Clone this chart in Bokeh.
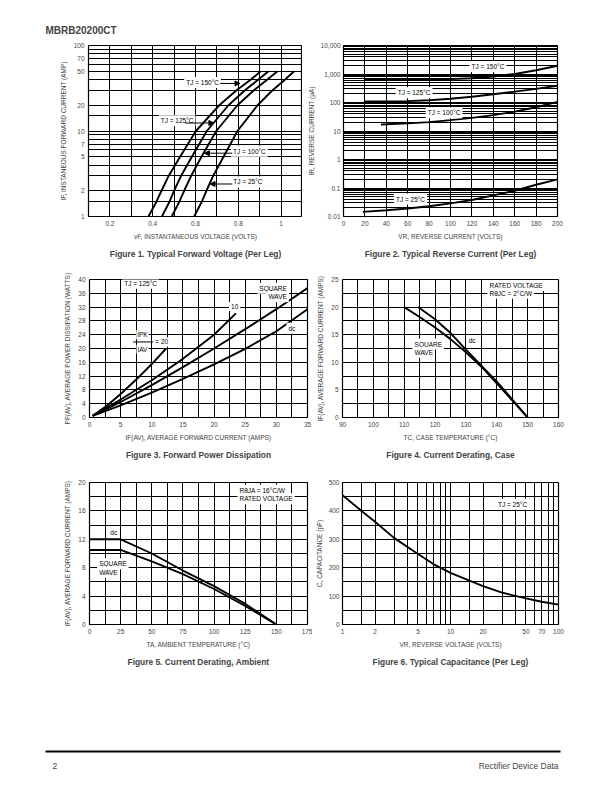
from bokeh.plotting import figure
from bokeh.models import (Range1d, FixedTicker, NumeralTickFormatter, Label, Arrow,
                          NormalHead, BoxAnnotation, Spacer)
from bokeh.layouts import column, row
from bokeh.embed import file_html
from bokeh.resources import INLINE

FONT = "Liberation Sans"

# ---------------- Figure 1 data: forward voltage ----------------
f1_current = [1, 1.5, 2, 3, 5, 10, 20, 30, 40, 50]
f1_v_25 = [0.594, 0.630, 0.651, 0.683, 0.731, 0.796, 0.890, 0.960, 1.019, 1.061]
f1_v_100 = [0.489, 0.525, 0.547, 0.580, 0.628, 0.697, 0.796, 0.873, 0.936, 0.983]
f1_v_125 = [0.443, 0.479, 0.500, 0.533, 0.583, 0.653, 0.754, 0.831, 0.894, 0.941]
f1_v_150 = [0.380, 0.418, 0.441, 0.475, 0.528, 0.602, 0.711, 0.792, 0.859, 0.905]
f1_xticks = [0.2, 0.4, 0.6, 0.8, 1.0]
f1_yticks = [1, 2, 5, 7, 10, 20, 50, 70, 100]

# ---------------- Figure 2 data: reverse current ----------------
f2_vr = [20, 40, 60, 80, 100, 120, 140, 160, 180, 200]
f2_ir_150 = [640, 630, 630, 640, 660, 710, 820, 1000, 1350, 1950]
f2_ir_125 = [108, 108, 112, 120, 135, 160, 195, 240, 300, 385]
f2_vr_100 = [35, 40, 60, 80, 100, 120, 140, 160, 180, 200]
f2_ir_100 = [17, 17.2, 18.5, 20.5, 24, 29, 36, 48, 68, 105]
f2_vr_25 = [18, 40, 60, 80, 100, 120, 140, 160, 180, 200]
f2_ir_25 = [0.0145, 0.0165, 0.019, 0.023, 0.029, 0.038, 0.055, 0.08, 0.13, 0.2]
f2_xticks = [0, 20, 40, 60, 80, 100, 120, 140, 160, 180, 200]
f2_yticks = [0.01, 0.1, 1, 10, 100, 1000, 10000]

# ---------------- Figure 3 data: forward power dissipation ----------------
f3_i_20 = [0.5, 2.5, 5, 7.5, 10, 12.3]
f3_p_20 = [0.5, 3.0, 6.8, 11.0, 15.5, 20.0]
f3_i_10 = [0.5, 5, 10, 15, 20, 23.5]
f3_p_10 = [0.5, 5.2, 10.8, 17.0, 24.0, 30.2]
f3_i = [0.5, 5, 10, 15, 20, 25, 30, 35]
f3_p_sq = [0.5, 4.5, 9.4, 14.6, 20.0, 25.6, 31.4, 37.5]
f3_p_dc = [0.5, 3.5, 7.2, 11.2, 15.4, 19.9, 25.0, 31.4]
f3_xticks = [0, 5, 10, 15, 20, 25, 30, 35]
f3_yticks = [0, 4, 8, 12, 16, 20, 24, 28, 32, 36, 40]

# ---------------- Figure 4 data: current derating, case ----------------
f4_tc_sq = [110, 115, 120, 125, 130, 135, 140, 145, 150]
f4_i_sq = [20, 18.2, 16.3, 14.2, 11.8, 9.2, 6.2, 3.1, 0]
f4_tc_dc = [114.5, 120, 125, 130, 135, 140, 145, 150]
f4_i_dc = [20, 17.8, 15.3, 12.3, 9.4, 6.5, 3.3, 0]
f4_xticks = [90, 100, 110, 120, 130, 140, 150, 160]
f4_yticks = [0, 5, 10, 15, 20, 25]

# ---------------- Figure 5 data: current derating, ambient ----------------
f5_ta = [0, 25, 50, 75, 100, 125, 150]
f5_i_dc = [12, 12, 10.0, 7.6, 5.4, 2.9, 0]
f5_i_sq = [10.5, 10.5, 8.9, 7.1, 5.0, 2.6, 0]
f5_xticks = [0, 25, 50, 75, 100, 125, 150, 175]
f5_yticks = [0, 4, 8, 12, 16, 20]

# ---------------- Figure 6 data: capacitance ----------------
f6_vr = [1, 1.5, 2, 3, 5, 7, 10, 20, 30, 50, 70, 100]
f6_c = [455, 400, 362, 305, 248, 212, 182, 135, 112, 92, 80, 70]
f6_xticks = [1, 2, 5, 10, 20, 50, 70, 100]
f6_yticks = [0, 100, 200, 300, 400, 500]

# grid positions
log_grid_1_100 = [1, 1.5, 2, 3, 4, 5, 6, 7, 8, 9, 10, 15, 20, 30, 40, 50, 60, 70, 80, 90, 100]
log_grid_rev = [m * 10.0 ** e for e in range(-2, 4) for m in range(1, 10)] + [10000]


def make_fig(w, h, bl, br, bt, bb, xr, yr, xlabel, ylabel, caption,
             xticks, yticks, xgrid, ygrid, xfmt="0", yfmt="0",
             xlog=False, ylog=False, ystand=(4, 4)):
    p = figure(width=w, height=h,
               x_range=Range1d(*xr), y_range=Range1d(*yr),
               x_axis_type="log" if xlog else "linear",
               y_axis_type="log" if ylog else "linear",
               output_backend="svg", toolbar_location=None,
               min_border_left=bl, min_border_right=br,
               min_border_top=bt, min_border_bottom=bb,
               title_location="below")
    p.title.text = caption
    p.title.align = "center"
    p.title.text_font = FONT
    p.title.text_font_size = "8.4px"
    p.title.text_font_style = "bold"
    p.title.standoff = 8
    p.outline_line_color = "black"
    p.outline_line_width = 1.2
    p.background_fill_color = "white"
    p.border_fill_color = "white"
    p.xaxis.axis_label = xlabel
    p.yaxis.axis_label = ylabel
    p.xaxis.ticker = FixedTicker(ticks=xticks)
    p.yaxis.ticker = FixedTicker(ticks=yticks)
    p.xaxis.formatter = NumeralTickFormatter(format=xfmt)
    p.yaxis.formatter = NumeralTickFormatter(format=yfmt)
    for ax in p.axis:
        ax.axis_line_color = None
        ax.major_tick_line_color = None
        ax.minor_tick_line_color = None
        ax.major_tick_out = 0
        ax.major_tick_in = 0
        ax.major_label_text_font = FONT
        ax.major_label_text_font_size = "6.5px"
        ax.major_label_standoff = 4
        ax.axis_label_text_font = FONT
        ax.axis_label_text_font_size = "6.5px"
        ax.axis_label_text_font_style = "normal"
        ax.axis_label_standoff = 4
    p.yaxis.major_label_standoff = ystand[0]
    p.yaxis.axis_label_standoff = ystand[1]
    p.xgrid.ticker = FixedTicker(ticks=xgrid)
    p.ygrid.ticker = FixedTicker(ticks=ygrid)
    for g in (p.xgrid, p.ygrid):
        g.grid_line_color = "black"
        g.grid_line_width = 1
        g.grid_line_alpha = 1
    return p


def lab(p, x, y, text, align="left", size="6.5px", pad=2):
    p.add_layout(Label(x=x, y=y, text=text, text_align=align,
                       text_baseline="middle", text_font=FONT,
                       text_font_size=size, text_color="black",
                       background_fill_color="white", padding=pad))


def arrow(p, x0, y0, x1, y1):
    p.add_layout(Arrow(end=NormalHead(size=5, fill_color="black",
                                      line_color="black", line_width=1),
                       x_start=x0, y_start=y0, x_end=x1, y_end=y1,
                       line_color="black", line_width=1))


CURVE = dict(line_color="black", line_width=1.9)

# ---------------- header ----------------
header = figure(width=596, height=36, x_range=Range1d(0, 596), y_range=Range1d(0, 36),
                x_axis_type=None, y_axis_type=None, output_backend="svg",
                toolbar_location=None, min_border=0)
header.outline_line_color = None
header.grid.visible = False
header.add_layout(Label(x=45, y=6.5, text="MBRB20200CT", text_baseline="middle",
                        text_font=FONT, text_font_size="10px", text_font_style="bold"))

# ---------------- Figure 1 ----------------
p1 = make_fig(294, 226, 80, 0, 9, 45, (0.1, 1.1), (1, 100),
              "vF, INSTANTANEOUS VOLTAGE (VOLTS)",
              "IF, INSTANEOUS FORWARD CURRENT (AMP)",
              "Figure 1. Typical Forward Voltage (Per Leg)",
              f1_xticks, f1_yticks,
              [0.1 * k for k in range(1, 12)], log_grid_1_100,
              xfmt="0.[0]", yfmt="0", ylog=True)
for v in (f1_v_150, f1_v_125, f1_v_100, f1_v_25):
    p1.line(v, f1_current, **CURVE)
lab(p1, 0.633, 37, "TJ = 150°C", "center")
arrow(p1, 0.715, 36, 0.808, 36)
lab(p1, 0.514, 13.2, "TJ = 125°C", "center")
arrow(p1, 0.552, 12.4, 0.686, 12.4)
lab(p1, 0.852, 5.8, "TJ = 100°C", "center")
arrow(p1, 0.772, 5.5, 0.642, 5.5)
lab(p1, 0.845, 2.54, "TJ = 25°C", "center")
arrow(p1, 0.772, 2.4, 0.668, 2.4)

# ---------------- Figure 2 ----------------
p2 = make_fig(302, 226, 41, 47, 9, 45, (0, 200), (0.01, 10000),
              "VR, REVERSE CURRENT (VOLTS)",
              "IR, REVERSE CURRENT (µA)",
              "Figure 2. Typical Reverse Current (Per Leg)",
              f2_xticks, f2_yticks,
              list(range(0, 201, 20)), log_grid_rev,
              xfmt="0", yfmt="0,0.[00]", ylog=True, ystand=(3, 3))
p2.line(f2_vr, f2_ir_150, **CURVE)
p2.line(f2_vr, f2_ir_125, **CURVE)
p2.line(f2_vr_100, f2_ir_100, **CURVE)
p2.line(f2_vr_25, f2_ir_25, **CURVE)
lab(p2, 135, 1820, "TJ = 150°C", "center")
lab(p2, 66, 219, "TJ = 125°C", "center")
lab(p2, 94, 44, "TJ = 100°C", "center")
lab(p2, 62.6, 0.041, "TJ = 25°C", "center")

# ---------------- Figure 3 ----------------
p3 = make_fig(306, 208, 81, 7, 15, 53, (0, 35), (0, 40),
              "IF(AV), AVERAGE FORWARD CURRENT (AMPS)",
              "PF(AV), AVERAGE POWER DISSIPATION (WATTS)",
              "Figure 3. Forward Power Dissipation",
              f3_xticks, f3_yticks,
              [2.5 * k for k in range(0, 15)], list(range(0, 41, 4)))
p3.line(f3_i_20, f3_p_20, **CURVE)
p3.line(f3_i_10, f3_p_10, **CURVE)
p3.line(f3_i, f3_p_sq, **CURVE)
p3.line(f3_i, f3_p_dc, **CURVE)
lab(p3, 8.2, 38.9, "TJ = 125°C", "center")
lab(p3, 23.3, 32.2, "10", "center")
lab(p3, 32.0, 37.5, "SQUARE", "right")
lab(p3, 32.0, 35.0, "WAVE", "right")
lab(p3, 32.5, 25.9, "dc", "center")
lab(p3, 8.5, 24.0, "IPK", "center", pad=1)
lab(p3, 8.5, 19.8, "IAV", "center", pad=1)
lab(p3, 10.4, 21.9, "= 20", "left", pad=1)
p3.add_layout(Arrow(end=None, x_start=7.0, y_start=21.9, x_end=10.2, y_end=21.9,
                    line_color="black", line_width=1))

# ---------------- Figure 4 ----------------
p4 = make_fig(290, 208, 28, 46, 17, 50, (90, 160), (0, 25),
              "TC, CASE TEMPERATURE (°C)",
              "IF(AV), AVERAGE FORWARD CURRENT (AMPS)",
              "Figure 4. Current Derating, Case",
              f4_xticks, f4_yticks,
              list(range(90, 161, 5)), [2.5 * k for k in range(0, 11)])
p4.line(f4_tc_sq, f4_i_sq, **CURVE)
p4.line(f4_tc_dc, f4_i_dc, **CURVE)
lab(p4, 137.0, 23.9, "RATED VOLTAGE", "left")
lab(p4, 137.0, 22.5, "RθJC = 2°C/W", "left")
lab(p4, 112.7, 13.3, "SQUARE", "left")
lab(p4, 112.7, 11.8, "WAVE", "left")
lab(p4, 132.0, 14.0, "dc", "center", pad=1)

# ---------------- Figure 5 ----------------
p5 = make_fig(304, 210, 81, 5, 12, 56, (0, 175), (0, 20),
              "TA, AMBIENT TEMPERATURE (°C)",
              "IF(AV), AVERAGE FORWARD CURRENT (AMPS)",
              "Figure 5. Current Derating, Ambient",
              f5_xticks, f5_yticks,
              [12.5 * k for k in range(0, 15)], list(range(0, 21, 2)))
p5.line(f5_ta, f5_i_dc, **CURVE)
p5.line(f5_ta, f5_i_sq, **CURVE)
lab(p5, 118.8, 18.9, "RθJA = 16°C/W", "left")
lab(p5, 118.8, 17.7, "RATED VOLTAGE", "left")
lab(p5, 19.5, 13.0, "dc", "center", pad=1)
lab(p5, 6.2, 8.55, "SQUARE", "left")
lab(p5, 6.2, 7.35, "WAVE", "left")

# ---------------- Figure 6 ----------------
p6 = make_fig(292, 210, 30, 46, 12, 56, (1, 100), (0, 500),
              "VR, REVERSE VOLTAGE (VOLTS)",
              "C, CAPACITANCE (pF)",
              "Figure 6. Typical Capacitance (Per Leg)",
              f6_xticks, f6_yticks,
              log_grid_1_100, list(range(0, 501, 50)), xlog=True, ystand=(3, 3))
p6.line(f6_vr, f6_c, **CURVE)
lab(p6, 37.5, 423, "TJ = 25°C", "center")

# ---------------- footer ----------------
footer = figure(width=596, height=104, x_range=Range1d(0, 596), y_range=Range1d(0, 104),
                x_axis_type=None, y_axis_type=None, output_backend="svg",
                toolbar_location=None, min_border=0)
footer.outline_line_color = None
footer.grid.visible = False
footer.add_layout(BoxAnnotation(left=45, right=560, bottom=32, top=34,
                                fill_color="black", fill_alpha=1, line_color=None))
footer.add_layout(Label(x=52, y=19, text="2", text_baseline="middle",
                        text_font=FONT, text_font_size="8.5px"))
footer.add_layout(Label(x=558, y=19, text="Rectifier Device Data", text_align="right",
                        text_baseline="middle", text_font=FONT, text_font_size="8.5px"))

page = column(header,
              row(Spacer(width=8), p1, p2),
              row(Spacer(width=8), p3, p4),
              row(Spacer(width=8), p5, p6),
              footer)
open("out.html", "w").write(file_html(page, INLINE))
